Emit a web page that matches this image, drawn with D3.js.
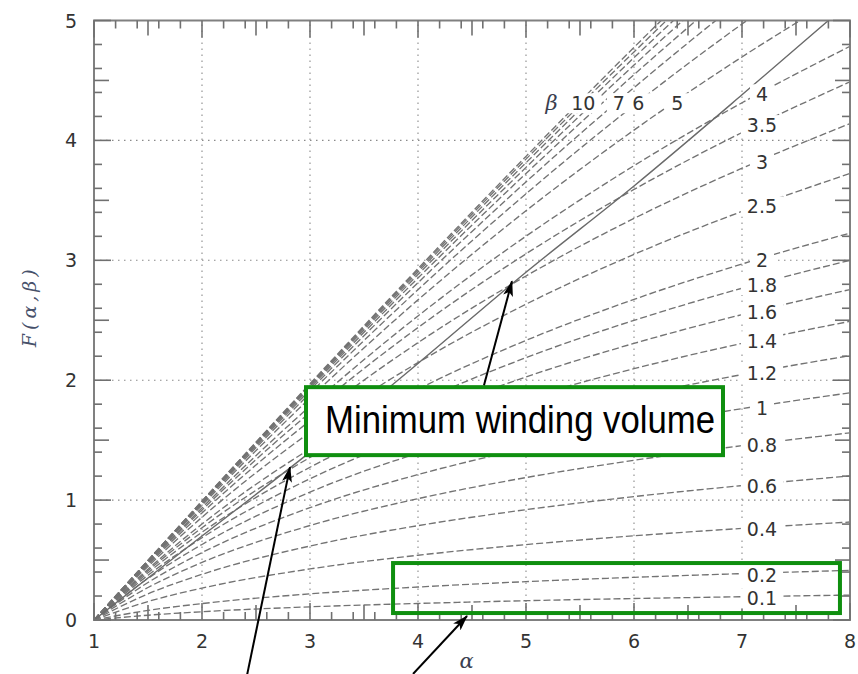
<!DOCTYPE html>
<html><head><meta charset="utf-8">
<script src="https://cdn.jsdelivr.net/npm/d3@7"></script>
<style>body{margin:0;background:#fff}</style>
</head><body>
<svg id="chart" width="858" height="674"></svg>
<script>
// ---- data ----
const alphaGrid = [1, 1.5, 2, 3, 4, 5, 6, 7, 8];
const betaValues = [0.1, 0.2, 0.4, 0.6, 0.8, 1, 1.2, 1.4, 1.6, 1.8, 2, 2.5, 3, 3.5, 4, 5, 6, 7, 8, 9, 10, 11, 12];
const F_b0_1 = [0, 0.040, 0.069, 0.110, 0.138, 0.161, 0.179, 0.194, 0.208];
const F_b0_2 = [0, 0.080, 0.137, 0.218, 0.275, 0.320, 0.356, 0.387, 0.414];
const F_b0_4 = [0, 0.154, 0.266, 0.426, 0.540, 0.629, 0.702, 0.764, 0.817];
const F_b0_6 = [0, 0.218, 0.381, 0.617, 0.787, 0.920, 1.029, 1.121, 1.201];
const F_b0_8 = [0, 0.271, 0.480, 0.788, 1.012, 1.188, 1.332, 1.454, 1.561];
const F_b1   = [0, 0.313, 0.562, 0.937, 1.213, 1.431, 1.610, 1.763, 1.895];
const F_b1_2 = [0, 0.347, 0.630, 1.067, 1.392, 1.651, 1.865, 2.047, 2.205];
const F_b1_4 = [0, 0.373, 0.686, 1.178, 1.551, 1.849, 2.096, 2.307, 2.491];
const F_b1_6 = [0, 0.394, 0.732, 1.274, 1.691, 2.027, 2.307, 2.547, 2.756];
const F_b1_8 = [0, 0.411, 0.769, 1.356, 1.815, 2.188, 2.499, 2.767, 3.000];
const F_b2   = [0, 0.424, 0.800, 1.427, 1.925, 2.332, 2.674, 2.969, 3.227];
const F_b2_5 = [0, 0.447, 0.857, 1.565, 2.147, 2.634, 3.049, 3.408, 3.725];
const F_b3   = [0, 0.461, 0.893, 1.662, 2.313, 2.869, 3.349, 3.768, 4.140];
const F_b3_5 = [0, 0.471, 0.918, 1.731, 2.439, 3.054, 3.591, 4.066, 4.489];
const F_b4   = [0, 0.477, 0.935, 1.783, 2.536, 3.201, 3.789, 4.314, 4.785];
const F_b5   = [0, 0.485, 0.957, 1.851, 2.670, 3.413, 4.086, 4.696, 5.251];
const F_b6   = [0, 0.489, 0.969, 1.892, 2.755, 3.555, 4.293, 4.971, 5.596];
const F_b7   = [0, 0.492, 0.977, 1.918, 2.813, 3.654, 4.440, 5.173, 5.855];
const F_b8   = [0, 0.494, 0.982, 1.936, 2.852, 3.724, 4.548, 5.324, 6.054];
const F_b9   = [0, 0.495, 0.986, 1.949, 2.881, 3.775, 4.628, 5.439, 6.207];
const F_b10  = [0, 0.496, 0.989, 1.958, 2.902, 3.814, 4.690, 5.528, 6.328];
const F_b11  = [0, 0.497, 0.991, 1.965, 2.918, 3.844, 4.738, 5.599, 6.425];
const F_b12  = [0, 0.497, 0.992, 1.971, 2.931, 3.867, 4.776, 5.655, 6.503];
const minVolAlpha = [1, 2, 3, 4, 5, 6, 7, 7.8];
const minVolF     = [0, 0.70, 1.40, 2.14, 2.90, 3.62, 4.38, 5.0];
const xTicks = [1, 2, 3, 4, 5, 6, 7, 8];
const yTicks = [0, 1, 2, 3, 4, 5];
const rightLabelBetas = [0.1, 0.2, 0.4, 0.6, 0.8, 1, 1.2, 1.4, 1.6, 1.8, 2, 2.5, 3, 3.5, 4];
const topLabelTexts = ["10", "7", "6", "5"];
const topLabelAlpha = [5.53, 5.86, 6.04, 6.40];
const annotationText = "Minimum winding volume";

const fArrays = [F_b0_1, F_b0_2, F_b0_4, F_b0_6, F_b0_8, F_b1, F_b1_2, F_b1_4, F_b1_6, F_b1_8, F_b2, F_b2_5,
  F_b3, F_b3_5, F_b4, F_b5, F_b6, F_b7, F_b8, F_b9, F_b10, F_b11, F_b12];
const series = betaValues.map((b, i) => ({beta: b, pts: alphaGrid.map((a, j) => [a, fArrays[i][j]])}));

// ---- layout ----
const W = 858, H = 674;
const svg = d3.select("#chart");
const x = d3.scaleLinear().domain([1, 8]).range([94, 850]);
const y = d3.scaleLinear().domain([0, 5]).range([620, 20.5]);
const X0 = x(1), X1 = x(8), Y0 = y(0), Y1 = y(5);

svg.append("rect").attr("width", W).attr("height", H).attr("fill", "#fff");
svg.append("defs").append("clipPath").attr("id", "plotclip")
  .append("rect").attr("x", X0).attr("y", Y1).attr("width", X1 - X0).attr("height", Y0 - Y1);

// grid
const grid = svg.append("g").attr("stroke", "#8a8a8a").attr("stroke-width", 1.1).attr("stroke-dasharray", "1.5,4.5");
xTicks.slice(1, -1).forEach(t => grid.append("line").attr("x1", x(t)).attr("x2", x(t)).attr("y1", Y0).attr("y2", Y1));
yTicks.slice(1, -1).forEach(t => grid.append("line").attr("y1", y(t)).attr("y2", y(t)).attr("x1", X0).attr("x2", X1));

// curves
const line = d3.line().x(d => x(d[0])).y(d => y(d[1])).curve(d3.curveMonotoneX);
const curves = svg.append("g").attr("clip-path", "url(#plotclip)");
curves.selectAll("path.beta").data(series).join("path")
  .attr("class", "beta").attr("d", d => line(d.pts))
  .attr("fill", "none").attr("stroke", "#737373").attr("stroke-width", 1.35)
  .attr("stroke-dasharray", "7,3");
curves.append("path").attr("d", line(minVolAlpha.map((a, i) => [a, minVolF[i]])))
  .attr("fill", "none").attr("stroke", "#6a6a6a").attr("stroke-width", 1.4);

// frame and ticks
const frame = svg.append("g").attr("stroke", "#808080");
frame.append("rect").attr("x", X0).attr("y", Y1).attr("width", X1 - X0).attr("height", Y0 - Y1)
  .attr("fill", "none").attr("stroke-width", 2);
const minorOff = [0.2, 0.4, 0.5, 0.6, 0.8];
const tk = frame.append("g").attr("stroke-width", 1.6).attr("stroke", "#707070");
xTicks.forEach((t, i) => {
  const L = 17;
  tk.append("line").attr("x1", x(t)).attr("x2", x(t)).attr("y1", Y0).attr("y2", Y0 - L);
  tk.append("line").attr("x1", x(t)).attr("x2", x(t)).attr("y1", Y1).attr("y2", Y1 + L);
  if (i < xTicks.length - 1) minorOff.forEach(o => {
    const l = o === 0.5 ? 15 : 8, xx = x(t + o);
    tk.append("line").attr("x1", xx).attr("x2", xx).attr("y1", Y0).attr("y2", Y0 - l);
    tk.append("line").attr("x1", xx).attr("x2", xx).attr("y1", Y1).attr("y2", Y1 + l);
  });
});
yTicks.forEach((t, i) => {
  const L = 17;
  tk.append("line").attr("y1", y(t)).attr("y2", y(t)).attr("x1", X0).attr("x2", X0 + L);
  tk.append("line").attr("y1", y(t)).attr("y2", y(t)).attr("x1", X1).attr("x2", X1 - L);
  if (i < yTicks.length - 1) minorOff.forEach(o => {
    const l = o === 0.5 ? 15 : 8, yy = y(t + o);
    tk.append("line").attr("y1", yy).attr("y2", yy).attr("x1", X0).attr("x2", X0 + l);
    tk.append("line").attr("y1", yy).attr("y2", yy).attr("x1", X1).attr("x2", X1 - l);
  });
});

// tick labels
const tickFont = "DejaVu Sans";
svg.append("g").selectAll("text").data(xTicks).join("text")
  .attr("x", d => x(d)).attr("y", Y0 + 28).attr("text-anchor", "middle")
  .attr("font-family", tickFont).attr("font-size", 19).attr("fill", "#333").text(d => d);
svg.append("g").selectAll("text").data(yTicks).join("text")
  .attr("x", X0 - 17).attr("y", d => y(d) + 7).attr("text-anchor", "end")
  .attr("font-family", tickFont).attr("font-size", 19).attr("fill", "#333").text(d => d);

// axis titles
svg.append("text").attr("x", x(4.45)).attr("y", 668).attr("text-anchor", "middle")
  .attr("font-family", "DejaVu Serif").attr("font-style", "italic").attr("font-size", 21)
  .attr("fill", "#3a4050").text("α");
svg.append("text").attr("transform", `translate(36,${y(2.6)}) rotate(-90)`).attr("text-anchor", "middle")
  .attr("font-family", "DejaVu Serif").attr("font-style", "italic").attr("font-size", 19)
  .attr("fill", "#46506a").attr("textLength", 78).attr("lengthAdjust", "spacing").text("F(α,β)");

// curve labels with white background
function interp(pts, a) {
  for (let i = 0; i < pts.length - 1; i++) {
    if (a >= pts[i][0] && a <= pts[i + 1][0]) {
      const t = (a - pts[i][0]) / (pts[i + 1][0] - pts[i][0]);
      return pts[i][1] + t * (pts[i + 1][1] - pts[i][1]);
    }
  }
  return pts[pts.length - 1][1];
}
const labG = svg.append("g");
function addLabel(px, py, txt, opts = {}) {
  const g = labG.append("g");
  const r = g.append("rect").attr("fill", "#fff");
  const t = g.append("text").attr("x", px).attr("y", py).attr("text-anchor", "middle")
    .attr("dominant-baseline", "central")
    .attr("font-family", opts.family || tickFont).attr("font-style", opts.style || "normal")
    .attr("font-size", opts.size || 19).attr("fill", opts.fill || "#333").text(txt);
  const bb = t.node().getBBox();
  r.attr("x", bb.x - 6).attr("y", bb.y + 1).attr("width", bb.width + 12).attr("height", bb.height - 2);
}
const labelAlpha = 7.185;
rightLabelBetas.forEach(b => {
  const s = series.find(d => d.beta === b);
  addLabel(x(labelAlpha), y(interp(s.pts, labelAlpha)) + 2, String(b));
});
const topF = 4.31;
addLabel(x(5.236), y(topF), "β", {family: "DejaVu Serif", style: "italic", size: 21, fill: "#3a4050"});
topLabelTexts.forEach((t, i) => addLabel(x(topLabelAlpha[i]), y(topF), t));

// green annotation boxes
svg.append("rect").attr("x", x(2.963)).attr("y", y(1.942)).attr("width", x(6.824) - x(2.963))
  .attr("height", y(1.375) - y(1.942)).attr("fill", "#fff").attr("stroke", "#0f8f0f").attr("stroke-width", 4);
svg.append("text").attr("x", x(3.14)).attr("y", y(1.558)).attr("font-family", "Liberation Sans")
  .attr("font-size", 38).attr("fill", "#000").attr("textLength", 390).attr("lengthAdjust", "spacingAndGlyphs")
  .text(annotationText);
svg.append("rect").attr("x", x(3.769)).attr("y", y(0.475)).attr("width", x(7.907) - x(3.769))
  .attr("height", y(0.058) - y(0.475)).attr("fill", "none").attr("stroke", "#0f8f0f").attr("stroke-width", 4);

// arrows
svg.append("defs").append("marker").attr("id", "ah").attr("viewBox", "0 0 16 10")
  .attr("refX", 15).attr("refY", 5).attr("markerWidth", 16).attr("markerHeight", 10)
  .attr("markerUnits", "userSpaceOnUse").attr("orient", "auto")
  .append("path").attr("d", "M0,0 L16,5 L0,10 L4,5 Z").attr("fill", "#000");
const arrows = [
  {a0: 4.611, f0: 1.958, a1: 4.870, f1: 2.825},
  {a0: 2.417, f0: -0.46, a1: 2.815, f1: 1.275},
  {a0: 3.954, f0: -0.45, a1: 4.454, f1: 0.033}
];
svg.append("g").selectAll("line").data(arrows).join("line")
  .attr("x1", d => x(d.a0)).attr("y1", d => y(d.f0)).attr("x2", d => x(d.a1)).attr("y2", d => y(d.f1))
  .attr("stroke", "#000").attr("stroke-width", 2).attr("marker-end", "url(#ah)");
</script>
</body></html>
